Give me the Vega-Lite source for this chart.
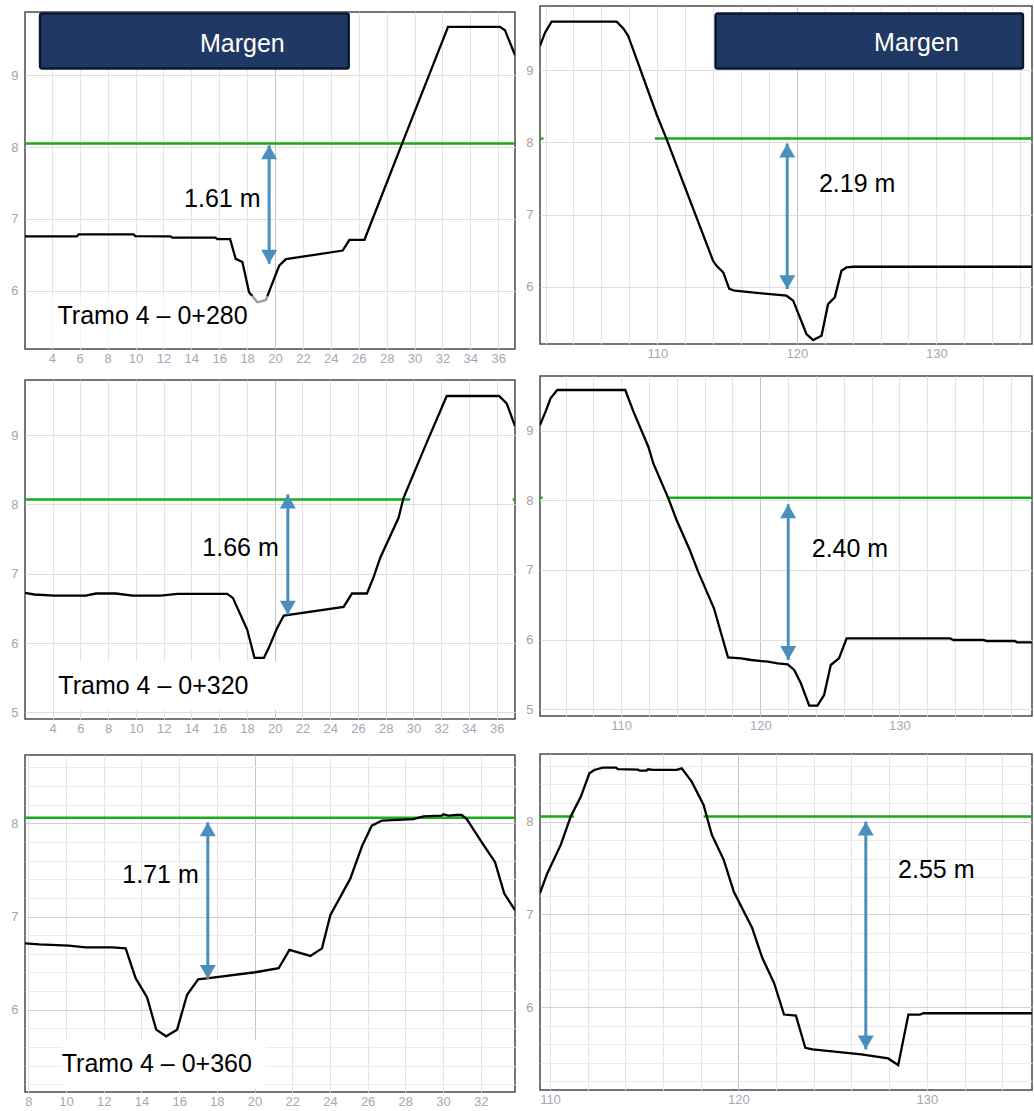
{
  "$schema": "https://vega.github.io/schema/vega-lite/v6.json",
  "padding": {"left": 10, "top": 5, "right": 0, "bottom": 0},
  "background": "white",
  "config": {
    "view": {"stroke": "#4a4a4a", "strokeWidth": 1.5},
    "axis": {"ticks": false, "domain": false, "labelFont": "Liberation Sans", "labelFontSize": 13, "gridWidth": 1, "labelOverlap": false, "labelFlush": false, "title": null},
    "axisX": {"labelPadding": 3, "labelColor": "#a3a8b4"},
    "axisY": {"labelPadding": 7, "labelColor": "#aaa29a"},
    "text": {"font": "Liberation Sans", "fontSize": 25, "color": "black"}
  },
  "spacing": 9,
  "hconcat": [
    {
      "spacing": 4,
      "vconcat": [
        {"width": 490, "height": 1, "data": {"values": []}, "mark": {"type": "point"}, "encoding": {}, "view": {"stroke": null}},
        {
          "spacing": 13,
          "vconcat": [
            {
              "width": 490, "height": 337,
              "encoding": {
                "x": {"field": "x", "type": "quantitative", "scale": {"domain": [2.08, 37.2], "nice": false, "zero": false},
                      "axis": {"title": null, "values": [4,6,8,10,12,14,16,18,20,22,24,26,28,30,32,34,36], "format": "d",
                               "gridColor": {"condition": {"test": "datum.value === 20", "value": "#c4c4c4"}, "value": "#e4e4e4"}}},
                "y": {"field": "y", "type": "quantitative", "scale": {"domain": [5.19, 9.88], "nice": false, "zero": false},
                      "axis": {"title": null, "values": [6,7,8,9], "format": "d", "gridColor": "#dedede"}}
              },
              "layer": [
                {"data": {"values": [{"x": 2.08, "x2": 37.2, "y": 8.05}]},
                 "mark": {"type": "rule", "color": "#1aab1a", "strokeWidth": 2.5, "clip": true},
                 "encoding": {"x2": {"field": "x2"}}},
                {"data": {"values": [
                  {"x": 2.08, "y": 6.757}, {"x": 5.8, "y": 6.757}, {"x": 5.92, "y": 6.785}, {"x": 9.87, "y": 6.785},
                  {"x": 9.99, "y": 6.76}, {"x": 12.5, "y": 6.757}, {"x": 12.63, "y": 6.74}, {"x": 15.74, "y": 6.74},
                  {"x": 15.86, "y": 6.72}, {"x": 16.78, "y": 6.72}, {"x": 17.18, "y": 6.445}, {"x": 17.66, "y": 6.4},
                  {"x": 18.14, "y": 5.98}, {"x": 18.74, "y": 5.84}, {"x": 19.34, "y": 5.87}, {"x": 20.3, "y": 6.35},
                  {"x": 20.78, "y": 6.44}, {"x": 24.85, "y": 6.56}, {"x": 25.33, "y": 6.71}, {"x": 26.41, "y": 6.71},
                  {"x": 29.05, "y": 8.02}, {"x": 32.4, "y": 9.673}, {"x": 36.12, "y": 9.673}, {"x": 36.48, "y": 9.627},
                  {"x": 37.2, "y": 9.28}]},
                 "mark": {"type": "line", "color": "black", "strokeWidth": 2.3, "clip": true},
                 "encoding": {"order": {"field": "x", "type": "quantitative"}}},
                {"data": {"values": [{"x": 3.9, "x2": 19.5, "y": 5.93, "y2": 5.22}]},
                 "mark": {"type": "rect", "fill": "white", "opacity": 0.6},
                 "encoding": {"x2": {"field": "x2"}, "y2": {"field": "y2"}}},
                {"data": {"values": [{"x": 19.58, "y": 8.025, "yb": 6.376}]},
                 "layer": [
                   {"mark": {"type": "rule", "color": "#4b8fbd", "strokeWidth": 3}, "encoding": {"y2": {"field": "yb"}}},
                   {"mark": {"type": "point", "shape": "triangle-up", "filled": true, "size": 256, "color": "#4b8fbd", "opacity": 1, "yOffset": 7}, "encoding": {}},
                   {"mark": {"type": "point", "shape": "triangle-down", "filled": true, "size": 256, "color": "#4b8fbd", "opacity": 1, "yOffset": -7}, "encoding": {"y": {"field": "yb", "type": "quantitative"}}}
                 ]},
                {"data": {"values": [{"x": 16.22, "y": 7.28, "label": "1.61 m"}]},
                 "mark": {"type": "text", "align": "center", "baseline": "middle"},
                 "encoding": {"text": {"field": "label"}}},
                {"data": {"values": [{"x": 4.41, "y": 5.656, "label": "Tramo 4 – 0+280"}]},
                 "mark": {"type": "text", "align": "left", "baseline": "middle"},
                 "encoding": {"text": {"field": "label"}}},
                {"data": {"values": [{"x": 3.16, "x2": 25.28, "y": 9.86, "y2": 9.093}]},
                 "mark": {"type": "rect", "fill": "#1f3864", "stroke": "#0b1730", "strokeWidth": 2.5, "cornerRadius": 2},
                 "encoding": {"x2": {"field": "x2"}, "y2": {"field": "y2"}}},
                {"data": {"values": [{"x": 17.66, "y": 9.44, "label": "Margen"}]},
                 "mark": {"type": "text", "align": "center", "baseline": "middle", "color": "white"},
                 "encoding": {"text": {"field": "label"}}}
              ]
            },
            {
              "spacing": 18,
              "vconcat": [
                {
                  "width": 490, "height": 339,
                  "encoding": {
                    "x": {"field": "x", "type": "quantitative", "scale": {"domain": [2.01, 37.32], "nice": false, "zero": false},
                          "axis": {"title": null, "values": [4,6,8,10,12,14,16,18,20,22,24,26,28,30,32,34,36], "format": "d",
                                   "gridColor": {"condition": {"test": "datum.value === 20", "value": "#c4c4c4"}, "value": "#e4e4e4"}}},
                    "y": {"field": "y", "type": "quantitative", "scale": {"domain": [4.904, 9.794], "nice": false, "zero": false},
                          "axis": {"title": null, "values": [5,6,7,8,9], "format": "d", "gridColor": "#dedede"}}
                  },
                  "layer": [
                    {"data": {"values": [{"x": 4.1, "x2": 20.2, "y": 5.74, "y2": 5.03}]},
                     "mark": {"type": "rect", "fill": "white"},
                     "encoding": {"x2": {"field": "x2"}, "y2": {"field": "y2"}}},
                    {"data": {"values": [{"x": 2.01, "x2": 29.77, "y": 8.071}, {"x": 37.15, "x2": 37.32, "y": 8.071}]},
                     "mark": {"type": "rule", "color": "#1aab1a", "strokeWidth": 2.5, "clip": true},
                     "encoding": {"x2": {"field": "x2"}}},
                    {"data": {"values": [
                      {"x": 2.01, "y": 6.723}, {"x": 2.68, "y": 6.7}, {"x": 4.12, "y": 6.685}, {"x": 6.4, "y": 6.685},
                      {"x": 7.12, "y": 6.714}, {"x": 8.55, "y": 6.714}, {"x": 9.75, "y": 6.685}, {"x": 11.79, "y": 6.685},
                      {"x": 12.99, "y": 6.709}, {"x": 16.58, "y": 6.709}, {"x": 16.99, "y": 6.651}, {"x": 18.02, "y": 6.194},
                      {"x": 18.55, "y": 5.785}, {"x": 19.22, "y": 5.785}, {"x": 19.58, "y": 5.93}, {"x": 20.18, "y": 6.218},
                      {"x": 20.66, "y": 6.396}, {"x": 24.97, "y": 6.52}, {"x": 25.57, "y": 6.714}, {"x": 26.65, "y": 6.714},
                      {"x": 27.13, "y": 6.95}, {"x": 27.61, "y": 7.23}, {"x": 28.93, "y": 7.806}, {"x": 29.29, "y": 8.095},
                      {"x": 30.85, "y": 8.84}, {"x": 32.4, "y": 9.563}, {"x": 36.17, "y": 9.563}, {"x": 36.72, "y": 9.457},
                      {"x": 37.32, "y": 9.13}]},
                     "mark": {"type": "line", "color": "black", "strokeWidth": 2.3, "clip": true},
                     "encoding": {"order": {"field": "x", "type": "quantitative"}}},
                    {"data": {"values": [{"x": 20.95, "y": 8.143, "yb": 6.41}]},
                     "layer": [
                       {"mark": {"type": "rule", "color": "#4b8fbd", "strokeWidth": 3}, "encoding": {"y2": {"field": "yb"}}},
                       {"mark": {"type": "point", "shape": "triangle-up", "filled": true, "size": 256, "color": "#4b8fbd", "opacity": 1, "yOffset": 7}, "encoding": {}},
                       {"mark": {"type": "point", "shape": "triangle-down", "filled": true, "size": 256, "color": "#4b8fbd", "opacity": 1, "yOffset": -7}, "encoding": {"y": {"field": "yb", "type": "quantitative"}}}
                     ]},
                    {"data": {"values": [{"x": 17.54, "y": 7.373, "label": "1.66 m"}]},
                     "mark": {"type": "text", "align": "center", "baseline": "middle"},
                     "encoding": {"text": {"field": "label"}}},
                    {"data": {"values": [{"x": 4.41, "y": 5.375, "label": "Tramo 4 – 0+320"}]},
                     "mark": {"type": "text", "align": "left", "baseline": "middle"},
                     "encoding": {"text": {"field": "label"}}}
                  ]
                },
                {
                  "width": 490, "height": 337,
                  "encoding": {
                    "x": {"field": "x", "type": "quantitative", "scale": {"domain": [7.82, 33.82], "nice": false, "zero": false},
                          "axis": {"title": null, "values": [8,10,12,14,16,18,20,22,24,26,28,30,32], "format": "d",
                                   "gridColor": {"condition": {"test": "datum.value === 20", "value": "#c4c4c4"}, "value": "#e4e4e4"}}},
                    "y": {"field": "y", "type": "quantitative", "scale": {"domain": [5.117, 8.733], "nice": false, "zero": false},
                          "axis": {"title": null, "values": [5.2,5.4,5.6,5.8,6,6.2,6.4,6.6,6.8,7,7.2,7.4,7.6,7.8,8,8.2,8.4,8.6],
                                   "labelExpr": "datum.value % 1 === 0 ? format(datum.value, 'd') : ''",
                                   "gridColor": {"condition": {"test": "datum.value % 1 === 0", "value": "#d2d2d2"}, "value": "#ebebeb"}}}
                  },
                  "layer": [
                    {"data": {"values": [{"x": 9.8, "x2": 20.6, "y": 5.68, "y2": 5.15}]},
                     "mark": {"type": "rect", "fill": "white"},
                     "encoding": {"x2": {"field": "x2"}, "y2": {"field": "y2"}}},
                    {"data": {"values": [{"x": 7.82, "x2": 33.82, "y": 8.06}]},
                     "mark": {"type": "rule", "color": "#1aab1a", "strokeWidth": 2.5, "clip": true},
                     "encoding": {"x2": {"field": "x2"}}},
                    {"data": {"values": [
                      {"x": 7.82, "y": 6.712}, {"x": 8.57, "y": 6.7}, {"x": 10.15, "y": 6.687}, {"x": 11.04, "y": 6.669},
                      {"x": 12.45, "y": 6.669}, {"x": 13.16, "y": 6.658}, {"x": 13.69, "y": 6.338}, {"x": 14.3, "y": 6.132},
                      {"x": 14.78, "y": 5.786}, {"x": 15.31, "y": 5.715}, {"x": 15.89, "y": 5.786}, {"x": 16.42, "y": 6.16},
                      {"x": 17.01, "y": 6.327}, {"x": 17.57, "y": 6.338}, {"x": 20.04, "y": 6.402}, {"x": 21.28, "y": 6.445},
                      {"x": 21.85, "y": 6.641}, {"x": 22.96, "y": 6.577}, {"x": 23.58, "y": 6.658}, {"x": 24.02, "y": 7.014},
                      {"x": 25.08, "y": 7.406}, {"x": 25.7, "y": 7.754}, {"x": 26.22, "y": 7.975}, {"x": 26.75, "y": 8.028},
                      {"x": 28.43, "y": 8.046}, {"x": 28.96, "y": 8.075}, {"x": 29.93, "y": 8.082}, {"x": 30.02, "y": 8.096},
                      {"x": 30.29, "y": 8.082}, {"x": 30.73, "y": 8.089}, {"x": 30.99, "y": 8.089}, {"x": 31.26, "y": 8.046},
                      {"x": 32.05, "y": 7.797}, {"x": 32.76, "y": 7.584}, {"x": 33.25, "y": 7.246}, {"x": 33.82, "y": 7.068}]},
                     "mark": {"type": "line", "color": "black", "strokeWidth": 2.3, "clip": true},
                     "encoding": {"order": {"field": "x", "type": "quantitative"}}},
                    {"data": {"values": [{"x": 17.52, "y": 8.011, "yb": 6.331}]},
                     "layer": [
                       {"mark": {"type": "rule", "color": "#4b8fbd", "strokeWidth": 3}, "encoding": {"y2": {"field": "yb"}}},
                       {"mark": {"type": "point", "shape": "triangle-up", "filled": true, "size": 256, "color": "#4b8fbd", "opacity": 1, "yOffset": 7}, "encoding": {}},
                       {"mark": {"type": "point", "shape": "triangle-down", "filled": true, "size": 256, "color": "#4b8fbd", "opacity": 1, "yOffset": -7}, "encoding": {"y": {"field": "yb", "type": "quantitative"}}}
                     ]},
                    {"data": {"values": [{"x": 15.01, "y": 7.448, "label": "1.71 m"}]},
                     "mark": {"type": "text", "align": "center", "baseline": "middle"},
                     "encoding": {"text": {"field": "label"}}},
                    {"data": {"values": [{"x": 9.77, "y": 5.413, "label": "Tramo 4 – 0+360"}]},
                     "mark": {"type": "text", "align": "left", "baseline": "middle"},
                     "encoding": {"text": {"field": "label"}}}
                  ]
                }
              ]
            }
          ]
        }
      ]
    },
    {
      "spacing": 14,
      "vconcat": [
        {
          "width": 492, "height": 338,
          "encoding": {
            "x": {"field": "x", "type": "quantitative", "scale": {"domain": [101.6, 136.85], "nice": false, "zero": false},
                  "axis": {"title": null, "values": [102,104,106,108,110,112,114,116,118,120,122,124,126,128,130,132,134,136],
                           "labelExpr": "datum.value % 10 === 0 ? format(datum.value, 'd') : ''",
                           "gridColor": {"condition": {"test": "datum.value === 120", "value": "#c4c4c4"}, "value": "#e4e4e4"}}},
            "y": {"field": "y", "type": "quantitative", "scale": {"domain": [5.207, 9.89], "nice": false, "zero": false},
                  "axis": {"title": null, "values": [6,7,8,9], "format": "d", "gridColor": "#dedede"}}
          },
          "layer": [
            {"data": {"values": [{"x": 101.6, "x2": 101.85, "y": 8.054}, {"x": 109.83, "x2": 136.85, "y": 8.054}]},
             "mark": {"type": "rule", "color": "#1aab1a", "strokeWidth": 2.5, "clip": true},
             "encoding": {"x2": {"field": "x2"}}},
            {"data": {"values": [
              {"x": 101.6, "y": 9.337}, {"x": 101.96, "y": 9.52}, {"x": 102.43, "y": 9.674}, {"x": 107.09, "y": 9.674},
              {"x": 107.57, "y": 9.58}, {"x": 107.92, "y": 9.475}, {"x": 109.95, "y": 8.39}, {"x": 110.67, "y": 8.045},
              {"x": 114.0, "y": 6.36}, {"x": 114.25, "y": 6.29}, {"x": 114.73, "y": 6.2}, {"x": 115.16, "y": 5.97},
              {"x": 115.56, "y": 5.945}, {"x": 119.26, "y": 5.876}, {"x": 119.74, "y": 5.807}, {"x": 120.69, "y": 5.345},
              {"x": 121.17, "y": 5.262}, {"x": 121.77, "y": 5.32}, {"x": 122.24, "y": 5.76}, {"x": 122.72, "y": 5.853},
              {"x": 123.2, "y": 6.222}, {"x": 123.56, "y": 6.268}, {"x": 124.03, "y": 6.277}, {"x": 136.85, "y": 6.277}]},
             "mark": {"type": "line", "color": "black", "strokeWidth": 2.3, "clip": true},
             "encoding": {"order": {"field": "x", "type": "quantitative"}}},
            {"data": {"values": [{"x": 119.31, "y": 7.985, "yb": 5.968}]},
             "layer": [
               {"mark": {"type": "rule", "color": "#4b8fbd", "strokeWidth": 3}, "encoding": {"y2": {"field": "yb"}}},
               {"mark": {"type": "point", "shape": "triangle-up", "filled": true, "size": 256, "color": "#4b8fbd", "opacity": 1, "yOffset": 7}, "encoding": {}},
               {"mark": {"type": "point", "shape": "triangle-down", "filled": true, "size": 256, "color": "#4b8fbd", "opacity": 1, "yOffset": -7}, "encoding": {"y": {"field": "yb", "type": "quantitative"}}}
             ]},
            {"data": {"values": [{"x": 124.32, "y": 7.42, "label": "2.19 m"}]},
             "mark": {"type": "text", "align": "center", "baseline": "middle"},
             "encoding": {"text": {"field": "label"}}},
            {"data": {"values": [{"x": 114.18, "x2": 136.2, "y": 9.785, "y2": 9.023}]},
             "mark": {"type": "rect", "fill": "#1f3864", "stroke": "#0b1730", "strokeWidth": 2.5, "cornerRadius": 2},
             "encoding": {"x2": {"field": "x2"}, "y2": {"field": "y2"}}},
            {"data": {"values": [{"x": 128.57, "y": 9.383, "label": "Margen"}]},
             "mark": {"type": "text", "align": "center", "baseline": "middle", "color": "white"},
             "encoding": {"text": {"field": "label"}}}
          ]
        },
        {
          "spacing": 20,
          "vconcat": [
            {
              "width": 492, "height": 340,
              "encoding": {
                "x": {"field": "x", "type": "quantitative", "scale": {"domain": [104.16, 139.54], "nice": false, "zero": false},
                      "axis": {"title": null, "values": [106,108,110,112,114,116,118,120,122,124,126,128,130,132,134,136,138],
                               "labelExpr": "datum.value % 10 === 0 ? format(datum.value, 'd') : ''",
                               "gridColor": {"condition": {"test": "datum.value === 120", "value": "#c4c4c4"}, "value": "#e4e4e4"}}},
                "y": {"field": "y", "type": "quantitative", "scale": {"domain": [4.904, 9.785], "nice": false, "zero": false},
                      "axis": {"title": null, "values": [5,6,7,8,9], "format": "d", "gridColor": "#dedede"}}
              },
              "layer": [
                {"data": {"values": [{"x": 104.16, "x2": 104.35, "y": 8.038}, {"x": 113.34, "x2": 139.54, "y": 8.038}]},
                 "mark": {"type": "rule", "color": "#1aab1a", "strokeWidth": 2.5, "clip": true},
                 "encoding": {"x2": {"field": "x2"}}},
                {"data": {"values": [
                  {"x": 104.16, "y": 9.081}, {"x": 104.56, "y": 9.273}, {"x": 104.92, "y": 9.464}, {"x": 105.4, "y": 9.584},
                  {"x": 110.29, "y": 9.584}, {"x": 110.88, "y": 9.273}, {"x": 111.95, "y": 8.77}, {"x": 112.31, "y": 8.531},
                  {"x": 113.39, "y": 8.029}, {"x": 113.98, "y": 7.718}, {"x": 114.93, "y": 7.287}, {"x": 115.53, "y": 6.976},
                  {"x": 116.67, "y": 6.45}, {"x": 117.08, "y": 6.163}, {"x": 117.68, "y": 5.746}, {"x": 118.63, "y": 5.732},
                  {"x": 119.35, "y": 5.708}, {"x": 120.54, "y": 5.684}, {"x": 121.25, "y": 5.66}, {"x": 121.97, "y": 5.646},
                  {"x": 122.44, "y": 5.565}, {"x": 122.92, "y": 5.373}, {"x": 123.52, "y": 5.053}, {"x": 124.11, "y": 5.053},
                  {"x": 124.59, "y": 5.206}, {"x": 125.07, "y": 5.636}, {"x": 125.66, "y": 5.732}, {"x": 126.21, "y": 6.019},
                  {"x": 133.65, "y": 6.019}, {"x": 133.89, "y": 5.995}, {"x": 136.03, "y": 5.995}, {"x": 136.27, "y": 5.981},
                  {"x": 138.3, "y": 5.981}, {"x": 138.46, "y": 5.962}, {"x": 139.54, "y": 5.962}]},
                 "mark": {"type": "line", "color": "black", "strokeWidth": 2.3, "clip": true},
                 "encoding": {"order": {"field": "x", "type": "quantitative"}}},
                {"data": {"values": [{"x": 122.01, "y": 7.943, "yb": 5.708}]},
                 "layer": [
                   {"mark": {"type": "rule", "color": "#4b8fbd", "strokeWidth": 3}, "encoding": {"y2": {"field": "yb"}}},
                   {"mark": {"type": "point", "shape": "triangle-up", "filled": true, "size": 256, "color": "#4b8fbd", "opacity": 1, "yOffset": 7}, "encoding": {}},
                   {"mark": {"type": "point", "shape": "triangle-down", "filled": true, "size": 256, "color": "#4b8fbd", "opacity": 1, "yOffset": -7}, "encoding": {"y": {"field": "yb", "type": "quantitative"}}}
                 ]},
                {"data": {"values": [{"x": 126.45, "y": 7.297, "label": "2.40 m"}]},
                 "mark": {"type": "text", "align": "center", "baseline": "middle"},
                 "encoding": {"text": {"field": "label"}}}
              ]
            },
            {
              "width": 492, "height": 336,
              "encoding": {
                "x": {"field": "x", "type": "quantitative", "scale": {"domain": [109.47, 135.58], "nice": false, "zero": false},
                      "axis": {"title": null, "values": [110,112,114,116,118,120,122,124,126,128,130,132,134],
                               "labelExpr": "datum.value % 10 === 0 ? format(datum.value, 'd') : ''",
                               "gridColor": {"condition": {"test": "datum.value === 120", "value": "#c4c4c4"}, "value": "#e4e4e4"}}},
                "y": {"field": "y", "type": "quantitative", "scale": {"domain": [5.108, 8.728], "nice": false, "zero": false},
                      "axis": {"title": null, "values": [5.2,5.4,5.6,5.8,6,6.2,6.4,6.6,6.8,7,7.2,7.4,7.6,7.8,8,8.2,8.4,8.6],
                               "labelExpr": "datum.value % 1 === 0 ? format(datum.value, 'd') : ''",
                               "gridColor": {"condition": {"test": "datum.value % 1 === 0", "value": "#d2d2d2"}, "value": "#ebebeb"}}}
              },
              "layer": [
                {"data": {"values": [{"x": 109.47, "x2": 111.28, "y": 8.054}, {"x": 118.15, "x2": 135.58, "y": 8.054}]},
                 "mark": {"type": "rule", "color": "#1aab1a", "strokeWidth": 2.5, "clip": true},
                 "encoding": {"x2": {"field": "x2"}}},
                {"data": {"values": [
                  {"x": 109.47, "y": 7.229}, {"x": 109.86, "y": 7.444}, {"x": 110.57, "y": 7.749}, {"x": 111.1, "y": 8.054},
                  {"x": 111.64, "y": 8.269}, {"x": 112.09, "y": 8.52}, {"x": 112.35, "y": 8.556}, {"x": 112.8, "y": 8.581},
                  {"x": 113.51, "y": 8.581}, {"x": 113.6, "y": 8.566}, {"x": 114.67, "y": 8.559}, {"x": 114.76, "y": 8.548},
                  {"x": 115.12, "y": 8.548}, {"x": 115.2, "y": 8.563}, {"x": 115.47, "y": 8.556}, {"x": 116.72, "y": 8.556},
                  {"x": 116.99, "y": 8.573}, {"x": 117.52, "y": 8.43}, {"x": 118.15, "y": 8.179}, {"x": 118.59, "y": 7.857},
                  {"x": 119.22, "y": 7.588}, {"x": 119.75, "y": 7.247}, {"x": 120.73, "y": 6.853}, {"x": 121.27, "y": 6.53},
                  {"x": 121.89, "y": 6.262}, {"x": 122.42, "y": 5.921}, {"x": 123.05, "y": 5.91}, {"x": 123.55, "y": 5.563},
                  {"x": 123.94, "y": 5.545}, {"x": 126.52, "y": 5.491}, {"x": 127.95, "y": 5.448}, {"x": 128.48, "y": 5.376},
                  {"x": 129.02, "y": 5.921}, {"x": 129.64, "y": 5.921}, {"x": 129.82, "y": 5.935}, {"x": 135.58, "y": 5.935}]},
                 "mark": {"type": "line", "color": "black", "strokeWidth": 2.3, "clip": true},
                 "encoding": {"order": {"field": "x", "type": "quantitative"}}},
                {"data": {"values": [{"x": 126.76, "y": 8.0, "yb": 5.545}]},
                 "layer": [
                   {"mark": {"type": "rule", "color": "#4b8fbd", "strokeWidth": 3}, "encoding": {"y2": {"field": "yb"}}},
                   {"mark": {"type": "point", "shape": "triangle-up", "filled": true, "size": 256, "color": "#4b8fbd", "opacity": 1, "yOffset": 7}, "encoding": {}},
                   {"mark": {"type": "point", "shape": "triangle-down", "filled": true, "size": 256, "color": "#4b8fbd", "opacity": 1, "yOffset": -7}, "encoding": {"y": {"field": "yb", "type": "quantitative"}}}
                 ]},
                {"data": {"values": [{"x": 130.5, "y": 7.48, "label": "2.55 m"}]},
                 "mark": {"type": "text", "align": "center", "baseline": "middle"},
                 "encoding": {"text": {"field": "label"}}}
              ]
            }
          ]
        }
      ]
    }
  ]
}
